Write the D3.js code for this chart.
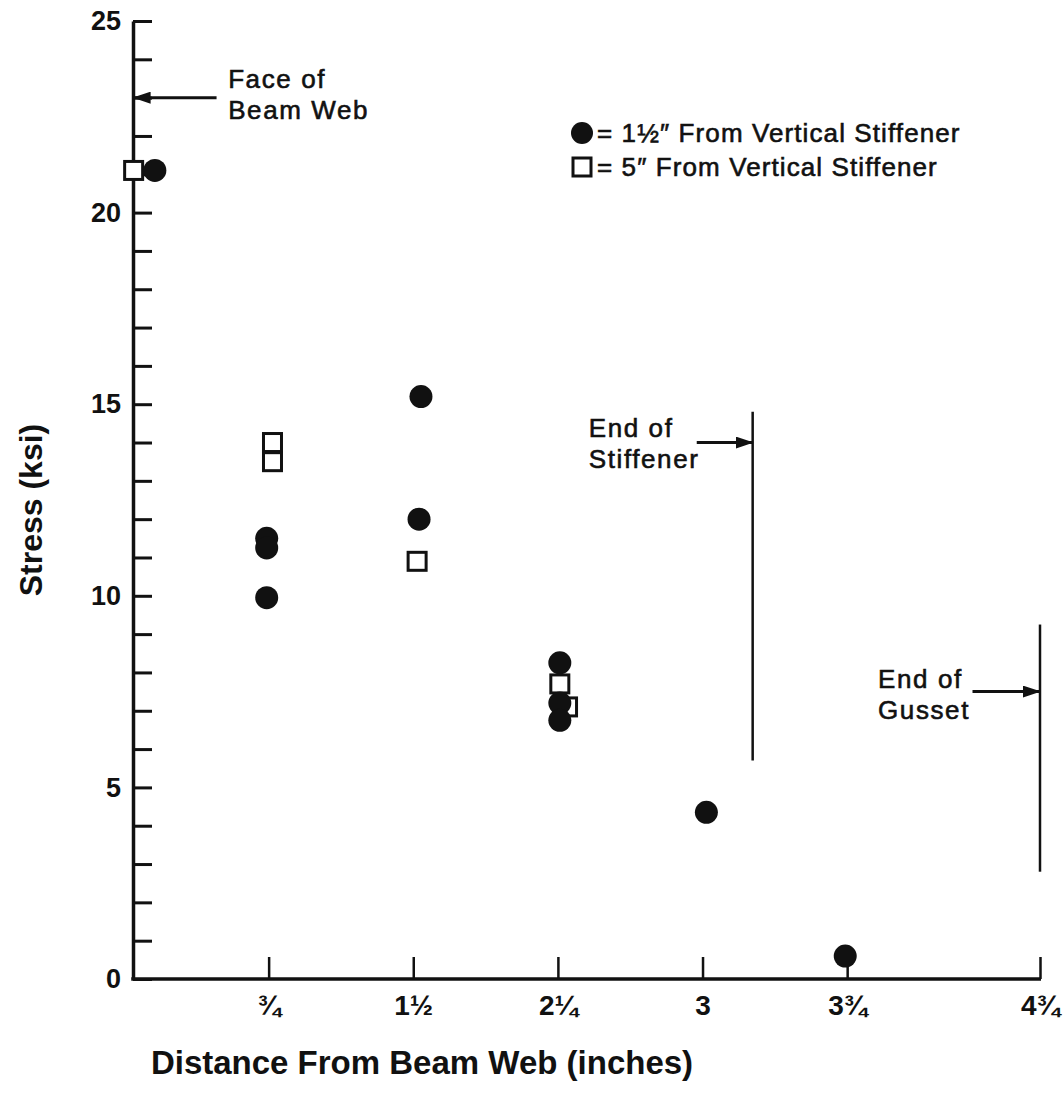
<!DOCTYPE html>
<html>
<head>
<meta charset="utf-8">
<script src="https://cdn.jsdelivr.net/npm/d3@7"></script>
<style>
  body { margin: 0; background: #fff; }
  text { font-family: "Liberation Sans", Arial, Helvetica, sans-serif; fill: #111; }
</style>
</head>
<body>
<script>
// stress readings (ksi) against distance from beam web (inches)
const nearStiffener = [
    [0.16, 21.1],
    [0.74, 11.5], [0.74, 11.25], [0.74, 9.95],
    [1.54, 15.2], [1.53, 12.0],
    [2.26, 8.25], [2.26, 7.2], [2.26, 6.75],
    [3.02, 4.35],
    [3.74, 0.6]
];
const farStiffener = [
    [0.05, 21.1],
    [0.77, 14.0], [0.77, 13.5],
    [1.52, 10.9],
    [2.26, 7.7], [2.3, 7.1]
];

const yTicks = d3.range(0, 26);
const yLabels = [0, 5, 10, 15, 20, 25];
const xTicks = [0.75, 1.5, 2.25, 3, 3.75, 4.75];
const xTickLabels = ["¾", "1½", "2¼", "3", "3¾", "4¾"];

// vertical markers: [x, yFrom, yTo]
const endLines = [
    [3.26, 5.7, 14.8],
    [4.75, 2.8, 9.25]
];
// arrows: [[x0, y0], [x1, y1]]
const arrows = [
    [[0.48, 23.0], [0.05, 23.0]],
    [[2.97, 14.0], [3.26, 14.0]],
    [[4.40, 7.5], [4.75, 7.5]]
];
// note text: [x, y of first baseline, lines]
const notes = [
    [0.54, 23.25, ["Face of", "Beam Web"]],
    [2.41, 14.15, ["End of", "Stiffener"]],
    [3.91, 7.6, ["End of", "Gusset"]]
];

const legendItems = [
    { shape: "circle", label: "= 1½″ From Vertical Stiffener" },
    { shape: "square", label: "= 5″ From Vertical Stiffener" }
];

const width = 1063, height = 1104;
const axisLeftX = 133;

const svg = d3.select("body").append("svg")
    .attr("width", width)
    .attr("height", height);

const x = d3.scaleLinear().domain([0, 4.75]).range([124, 1040]);
const y = d3.scaleLinear().domain([0, 25]).range([979, 21]);

svg.append("defs").append("marker")
    .attr("id", "head")
    .attr("markerUnits", "userSpaceOnUse")
    .attr("markerWidth", 18)
    .attr("markerHeight", 12)
    .attr("refX", 17)
    .attr("refY", 6)
    .attr("orient", "auto")
    .append("path")
    .attr("d", "M0,0L18,6L0,12z")
    .attr("fill", "#111");

// y axis, ticks pointing inward
const yAxis = d3.axisLeft(y)
    .tickValues(yTicks)
    .tickSizeInner(-19)
    .tickSizeOuter(0)
    .tickPadding(12)
    .tickFormat(d => yLabels.includes(d) ? d : "");

const gy = svg.append("g")
    .attr("transform", `translate(${axisLeftX},0)`)
    .call(yAxis);
gy.select(".domain").attr("stroke", "#111").attr("stroke-width", 3.5);
gy.selectAll(".tick line").attr("stroke", "#111").attr("stroke-width", 3);
gy.selectAll(".tick text")
    .style("font-size", "27px")
    .style("font-weight", "bold");

// x axis, ticks pointing up
const xAxis = d3.axisBottom(x)
    .tickValues(xTicks)
    .tickSizeInner(-22)
    .tickSizeOuter(0)
    .tickPadding(16)
    .tickFormat((d, i) => xTickLabels[i]);

const gx = svg.append("g")
    .attr("transform", `translate(0,${y(0)})`)
    .call(xAxis);
gx.select(".domain")
    .attr("d", `M${axisLeftX - 1.75},0H${x(4.75) + 1}`)
    .attr("stroke", "#111").attr("stroke-width", 3.5);
gx.selectAll(".tick line").attr("stroke", "#111").attr("stroke-width", 2.5);
gx.selectAll(".tick text")
    .style("font-size", "28px")
    .style("font-weight", "bold");

// axis titles
svg.append("text")
    .attr("transform", `translate(42,${510}) rotate(-90)`)
    .attr("text-anchor", "middle")
    .style("font-size", "32px")
    .style("font-weight", "bold")
    .text("Stress (ksi)");

svg.append("text")
    .attr("x", 422)
    .attr("y", 1074)
    .attr("text-anchor", "middle")
    .style("font-size", "33px")
    .style("font-weight", "bold")
    .text("Distance From Beam Web (inches)");

// end of stiffener / gusset lines
svg.selectAll(".endline")
    .data(endLines)
    .join("line")
    .attr("class", "endline")
    .attr("x1", d => x(d[0])).attr("x2", d => x(d[0]))
    .attr("y1", d => y(d[1])).attr("y2", d => y(d[2]))
    .attr("stroke", "#111")
    .attr("stroke-width", 2.5);

svg.selectAll(".arrow")
    .data(arrows)
    .join("line")
    .attr("class", "arrow")
    .attr("x1", d => x(d[0][0])).attr("y1", d => y(d[0][1]))
    .attr("x2", d => x(d[1][0])).attr("y2", d => y(d[1][1]))
    .attr("stroke", "#111")
    .attr("stroke-width", 3)
    .attr("marker-end", "url(#head)");

const noteText = svg.selectAll(".note")
    .data(notes)
    .join("text")
    .attr("class", "note")
    .attr("x", d => x(d[0]))
    .attr("y", d => y(d[1]))
    .style("font-size", "26px")
    .style("letter-spacing", "1.6px")
    .style("stroke", "#111")
    .style("stroke-width", 0.6);
noteText.selectAll("tspan")
    .data(d => d[2].map(t => ({ t, x: x(d[0]) })))
    .join("tspan")
    .attr("x", d => d.x)
    .attr("dy", (d, i) => i === 0 ? 0 : 31)
    .text(d => d.t);

// data points - squares under circles
svg.append("g")
    .selectAll("rect")
    .data(farStiffener)
    .join("rect")
    .attr("x", d => x(d[0]) - 9)
    .attr("y", d => y(d[1]) - 9)
    .attr("width", 18)
    .attr("height", 18)
    .attr("fill", "#fff")
    .attr("stroke", "#111")
    .attr("stroke-width", 3);

svg.append("g")
    .selectAll("circle")
    .data(nearStiffener)
    .join("circle")
    .attr("cx", d => x(d[0]))
    .attr("cy", d => y(d[1]))
    .attr("r", 11.5)
    .attr("fill", "#111");

// legend
const legend = svg.append("g").attr("transform", "translate(582,133)");
const items = legend.selectAll("g")
    .data(legendItems)
    .join("g")
    .attr("transform", (d, i) => `translate(0,${i * 34})`);
items.filter(d => d.shape === "circle")
    .append("circle")
    .attr("r", 11)
    .attr("fill", "#111");
items.filter(d => d.shape === "square")
    .append("rect")
    .attr("x", -9).attr("y", -9)
    .attr("width", 18).attr("height", 18)
    .attr("fill", "#fff")
    .attr("stroke", "#111")
    .attr("stroke-width", 3);
items.append("text")
    .attr("x", 15)
    .attr("y", 9)
    .style("font-size", "26px")
    .style("letter-spacing", "1.1px")
    .style("stroke", "#111")
    .style("stroke-width", 0.6)
    .text(d => d.label);
</script>
</body>
</html>
